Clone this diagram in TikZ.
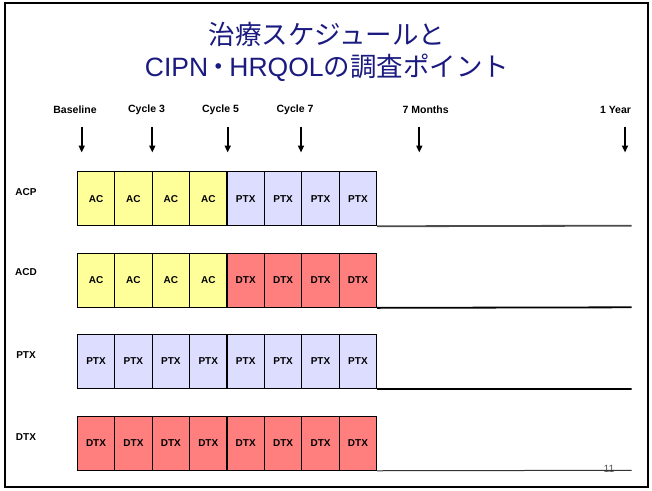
\documentclass[tikz,border=0pt]{standalone}
\usepackage{fontspec}
\setmainfont{Liberation Sans}
\newfontfamily\cjk{Noto Sans CJK JP}
\usetikzlibrary{arrows.meta}
\definecolor{navy}{HTML}{1A1A80}
\definecolor{yel}{HTML}{FFFF99}
\definecolor{lav}{HTML}{DDDDFF}
\definecolor{sal}{HTML}{FF7F7F}
\tikzset{
  cell/.style={draw=black, line width=1.1pt, minimum width=37.42pt, minimum height=54pt, inner sep=0pt, font=\fontsize{10}{10}\selectfont\bfseries},
  rowlab/.style={font=\fontsize{10}{10}\selectfont\bfseries, inner sep=0pt},
  timelab/.style={font=\fontsize{10.5}{10.5}\selectfont\bfseries, inner sep=0pt},
  tarrow/.style={line width=1.8pt, -{Triangle[width=6pt,length=7pt]}},
  tline/.style={line width=1.8pt},
}
\begin{document}
\begin{tikzpicture}[x=1pt,y=-1pt]
\useasboundingbox (0,0) rectangle (652,490);
% frame
\draw[line width=2.5pt] (5,3) rectangle (648,487);
% title
\node[text=navy, inner sep=0pt] (t1) at (327,34) {\fontsize{26.5}{26.5}\selectfont\cjk 治療スケジュールと};
\node[text=navy, inner sep=0pt] (t2) at (327,68) {\fontsize{26.5}{26.5}\selectfont CIPN{\cjk\hspace{-0.1em}・\hspace{-0.1em}}HRQOL{\cjk の調査ポイント}};
% time labels and arrows
\foreach \n/\lx/\ax/\txt in {b/75/81.7/Baseline, c3/146.5/152.3/Cycle 3, c5/220.5/227.7/Cycle 5, c7/295/301/Cycle 7, m7/425.7/419.3/7 Months, y1/615.5/625/1 Year}{
  \node[timelab] (l\n) at (\lx,110) {\txt};
  \coordinate (s\n) at (\ax,126.5);
  \coordinate (e\n) at (\ax,152.5);
  \draw[tarrow] (s\n) -- (e\n);
}
% rows
\def\xo{77.3}
\def\w{37.42}
\node[rowlab] (lacp) at (26,192) {ACP};
\node[rowlab] (lacd) at (26,272) {ACD};
\node[rowlab] (lptx) at (26,355) {PTX};
\node[rowlab] (ldtx) at (26,437) {DTX};
\foreach \i in {1,...,8}{
  \pgfmathsetmacro{\cx}{\xo+(\i-0.5)*\w}
  \ifnum\i<5
    \node[cell, fill=yel] (a\i) at (\cx,198.7) {AC};
    \node[cell, fill=yel] (b\i) at (\cx,280.3) {AC};
  \else
    \node[cell, fill=lav] (a\i) at (\cx,198.7) {PTX};
    \node[cell, fill=sal] (b\i) at (\cx,280.3) {DTX};
  \fi
  \node[cell, fill=lav] (p\i) at (\cx,361.5) {PTX};
  \node[cell, fill=sal] (d\i) at (\cx,443.2) {DTX};
}
% page number
\node[text=black!65, inner sep=0pt, font=\fontsize{10.5}{10.5}\selectfont] (pg) at (609,468.5) {11};
% timelines
\coordinate (ea) at (631.7,225.7);
\coordinate (eb) at (631.7,307.3);
\coordinate (ep) at (631.7,389);
\coordinate (ed) at (631.7,470.3);
\draw[tline, black!70] (a8.south east) -- (ea);
\draw[tline] (b8.south east) -- (eb);
\draw[tline] (p8.south east) -- (ep);
\draw[line width=1pt, black!80] (d8.south east) -- (ed);
\end{tikzpicture}
\end{document}
